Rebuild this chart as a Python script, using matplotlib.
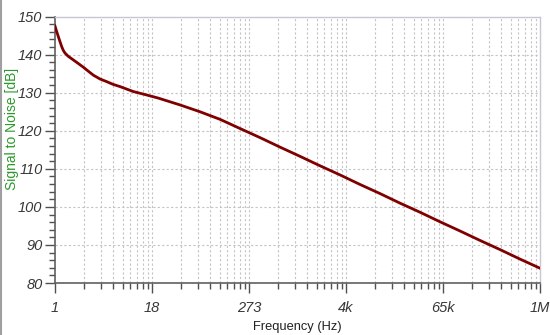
import numpy as np
import matplotlib
matplotlib.use("Agg")
import matplotlib.pyplot as plt
from matplotlib.lines import Line2D

# Data
freq_hz = [1, 1.044, 1.1, 1.153, 1.21, 1.267, 1.33, 1.45, 1.685, 1.93, 2.24, 2.56, 2.98,
           3.6, 4.36, 5.2, 6.37, 9.3, 13.6, 18.8, 35, 62, 110, 194,
           344, 608, 1070, 1900, 3360, 5930, 10500, 18500, 32800, 57900, 102000,
           181000, 320000, 566000, 1000000]
snr_db = [147.5, 146.2, 144.7, 143.4, 142.1, 141.1, 140.4, 139.6, 138.6, 137.7, 136.7,
          135.7, 134.6, 133.6, 132.9, 132.2, 131.6, 130.3, 129.4, 128.6, 126.8, 125.0,
          123.0, 120.6, 118.2, 115.7, 113.3, 110.8, 108.4, 105.9,
          103.5, 101.0, 98.6, 96.1, 93.7, 91.2, 88.8, 86.3, 83.9]

x_tick_labels = ["1", "18", "273", "4k", "65k", "1M"]
y_ticks = [80, 90, 100, 110, 120, 130, 140, 150]

fig = plt.figure(figsize=(5.5, 3.35), dpi=100)
ax = fig.add_axes([0.1, 0.155, 0.8818, 0.7957])

ax.set_xscale("log")
ax.set_xlim(1, 1e6)
ax.set_ylim(80, 150)

step = 1.2
major = [10 ** (step * k) for k in range(6)]
minor = [10 ** (step * (k + np.log10(m))) for k in range(5) for m in range(2, 10)]

ax.set_xticks(major)
ax.set_xticklabels(x_tick_labels)
ax.set_xticks(minor, minor=True)
ax.set_xticklabels([], minor=True)
ax.set_yticks(y_ticks)
ax.set_yticks(np.arange(80, 151, 2), minor=True)

grid_kw = dict(color="#c4c4c4", linewidth=0.8, linestyle=(0, (2, 2)))
for xv in major[1:-1] + minor:
    ax.axvline(xv, zorder=0, **grid_kw)
for yv in y_ticks[1:-1]:
    ax.axhline(yv, zorder=0, **grid_kw)

ax.plot(freq_hz, snr_db, color="#800000", linewidth=2.0, zorder=3)

for s in ["left", "bottom"]:
    ax.spines[s].set_color("#606060")
    ax.spines[s].set_linewidth(1.2)
for s in ["top", "right"]:
    ax.spines[s].set_color("#cbc4d2")
    ax.spines[s].set_linewidth(1.0)

ax.tick_params(axis="both", which="major", direction="out", length=7, width=1.0,
               color="#505050", labelcolor="#383838", pad=2)
ax.tick_params(axis="both", which="minor", direction="out", length=4, width=1.0,
               color="#505050")
ax.tick_params(axis="x", which="major", pad=6)
for lbl in ax.get_xticklabels() + ax.get_yticklabels():
    lbl.set_fontstyle("italic")
    lbl.set_family("Liberation Sans")
    lbl.set_fontsize(10.5)

ax.set_xlabel("Frequency (Hz)", fontsize=9.3, color="#202020", family="Liberation Sans",
              labelpad=4)
ax.set_ylabel("Signal to Noise [dB]", fontsize=10.0, color="#2a9a2a",
              family="Liberation Sans")
ax.yaxis.set_label_coords(-0.074, 0.58)

fig.add_artist(Line2D([0.001, 0.001], [0, 1], transform=fig.transFigure,
                      color="#a0a0a0", linewidth=1.5))

fig.savefig("out.png", dpi=100)
